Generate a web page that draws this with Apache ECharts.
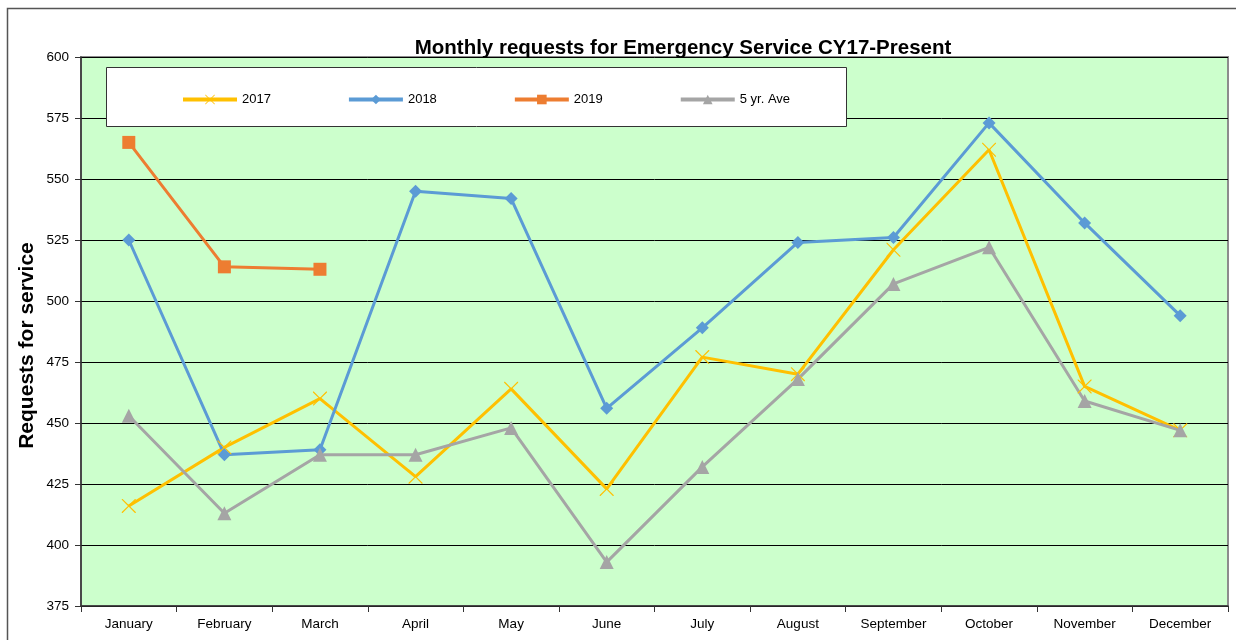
<!DOCTYPE html>
<html>
<head>
<meta charset="utf-8">
<script src="https://cdn.jsdelivr.net/npm/echarts@6/dist/echarts.min.js"></script>
<style>
  html, body { margin: 0; padding: 0; background: #fff; }
  #chart { width: 1236px; height: 640px; }
</style>
</head>
<body>
<div id="chart"></div>
<script>
// datos
const meses = ['January', 'February', 'March', 'April', 'May', 'June', 'July', 'August', 'September', 'October', 'November', 'December'];
const serie2017 = [416, 440, 460, 428, 464, 423, 477, 470, 521, 562, 465, 447];
const serie2018 = [525, 437, 439, 545, 542, 456, 489, 524, 526, 573, 532, 494];
const serie2019 = [565, 514, 513];
const promedio5 = [453, 413, 437, 437, 448, 393, 432, 468, 507, 522, 459, 447];
const ticksY = [375, 400, 425, 450, 475, 500, 525, 550, 575, 600];

const fuente = 'Liberation Sans, Arial, sans-serif';
const cruz = 'path://M0,0 L1.2,0 L10,8.8 L18.8,0 L20,0 L20,1.2 L11.2,10 L20,18.8 L20,20 L18.8,20 L10,11.2 L1.2,20 L0,20 L0,18.8 L8.8,10 L0,1.2 Z';

let myChart = echarts.init(document.getElementById('chart'), null, { renderer: 'canvas' });

function linea(nombre, datos, color, simbolo, tam) {
    return {
        name: nombre,
        type: 'line',
        data: datos,
        symbol: simbolo,
        symbolSize: tam,
        showAllSymbol: true,
        lineStyle: { color: color, width: 3 },
        itemStyle: { color: color },
        z: 3
    };
}

myChart.setOption({
    backgroundColor: '#fff',
    animation: false,
    textStyle: { fontFamily: fuente },
    title: {
        text: 'Monthly requests for Emergency Service CY17-Present',
        left: 678,
        textAlign: 'center',
        top: 33,
        textStyle: { fontSize: 20.5, fontWeight: 'bold', color: '#000', fontFamily: fuente }
    },
    graphic: [
        {
            type: 'rect',
            shape: { x: 7.5, y: 8.5, width: 1240, height: 650 },
            style: { fill: 'none', stroke: '#555', lineWidth: 1.5 },
            silent: true
        },
        {
            type: 'rect',
            shape: { x: 106.5, y: 67.5, width: 740, height: 59 },
            style: { fill: '#fff', stroke: '#333', lineWidth: 1 },
            z: 10,
            silent: true
        }
    ],
    legend: {
        left: 176,
        top: 88,
        z: 20,
        itemWidth: 54,
        itemHeight: 12,
        itemGap: 76,
        lineStyle: { width: 4 },
        textStyle: { fontSize: 13, color: '#000', fontFamily: fuente },
        data: ['2017', '2018', '2019', '5 yr. Ave']
    },
    grid: {
        left: 81,
        right: 8,
        top: 57,
        bottom: 34,
        show: true,
        backgroundColor: '#CCFFCC',
        borderColor: '#8c8c8c',
        borderWidth: 2
    },
    xAxis: {
        type: 'category',
        data: meses,
        boundaryGap: true,
        axisLine: { lineStyle: { color: '#333', width: 1.5 } },
        axisTick: { show: true, alignWithLabel: false, length: 6, lineStyle: { color: '#333' } },
        axisLabel: { color: '#000', fontSize: 13.5, margin: 11, fontFamily: fuente },
        splitLine: { show: false }
    },
    yAxis: {
        type: 'value',
        min: ticksY[0],
        max: ticksY[ticksY.length - 1],
        interval: 25,
        name: 'Requests for service',
        nameLocation: 'middle',
        nameGap: 43,
        nameMoveOverlap: false,
        nameTextStyle: { fontSize: 21, fontWeight: 'bold', color: '#000', fontFamily: fuente, padding: [0, 28, 0, 0] },
        axisLine: { show: true, lineStyle: { color: '#333', width: 1.5 } },
        axisTick: { show: true, length: 6, lineStyle: { color: '#333' } },
        axisLabel: { color: '#000', fontSize: 13.5, margin: 12, fontFamily: fuente },
        splitLine: { show: true, lineStyle: { color: '#000', width: 1 } }
    },
    series: [
        linea('2017', serie2017, '#FFC000', cruz, 14),
        linea('2018', serie2018, '#5B9BD5', 'diamond', 13),
        linea('2019', serie2019, '#ED7D31', 'rect', 13),
        linea('5 yr. Ave', promedio5, '#A5A5A5', 'triangle', 14)
    ]
});
</script>
</body>
</html>
